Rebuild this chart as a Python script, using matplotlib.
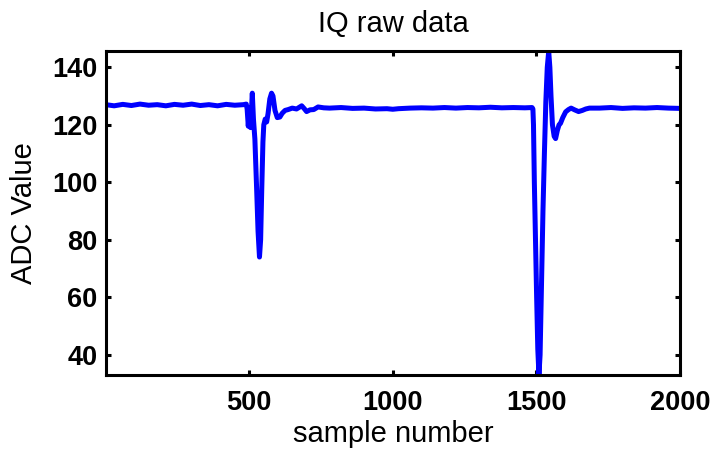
import matplotlib
matplotlib.use("Agg")
import matplotlib.pyplot as plt

plt.rcParams['font.family'] = ['Liberation Sans', 'DejaVu Sans']

# Raw ADC trace: (sample index, value) readings
sample_idx = [
    1, 30, 60, 90, 120, 150, 180, 210, 240, 270, 300, 330, 360, 390, 420, 450, 480, 490,
    493, 497, 501, 505, 508, 511, 515, 520, 526, 531, 536, 540, 544, 548, 551, 556, 561,
    566, 572, 578, 583, 590, 598, 607, 615, 625, 636, 650, 665, 683, 692, 700, 712, 725, 740,
    760, 780, 820, 860, 900, 940, 980, 1000, 1020, 1060, 1100, 1140, 1180, 1220, 1260,
    1300, 1340, 1380, 1420, 1460, 1485,
    1488, 1490, 1493, 1497, 1501, 1505, 1509, 1513, 1518, 1523, 1528, 1533, 1538, 1543,
    1547, 1551, 1556, 1562, 1567, 1573, 1579, 1584, 1592, 1602, 1612, 1621, 1633, 1647,
    1660, 1672, 1685, 1720, 1760, 1800, 1840, 1880, 1920, 1960, 2000,
]
adc_value = [
    127.0, 126.6, 127.1, 126.7, 127.2, 126.8, 127.0, 126.6, 127.1, 126.8, 127.2, 126.7,
    127.0, 126.6, 127.1, 126.8, 127.0, 127.2,
    125.5, 119.5, 126.0, 119.0, 125.0, 131.0, 122.0, 115.0, 98.0, 83.0, 74.0, 80.0, 98.0,
    114.0, 120.0, 122.0, 121.0,
    124.0, 129.0, 131.0, 130.0, 125.0, 122.5, 122.7, 124.0, 125.0, 125.3, 125.8, 125.5,
    126.6, 125.6, 124.6, 125.2, 125.3, 126.2,
    125.9, 125.8, 126.0, 125.7, 125.8, 125.5, 125.6, 125.4, 125.6, 125.8, 125.9, 125.8,
    126.0, 125.8, 126.0, 125.9, 126.1, 125.9, 126.0, 125.9, 126.0,
    125.5, 120.0, 100.0, 80.0, 60.0, 42.0, 33.0, 40.0, 65.0, 90.0, 110.0, 128.0, 140.0,
    145.5, 140.0, 130.0, 120.0, 116.0, 115.2, 118.0, 120.0, 120.5, 122.5, 124.5, 125.3,
    125.8, 125.2, 124.6, 125.0, 125.5, 125.8, 125.8, 126.0, 125.7, 125.9, 125.8, 126.0,
    125.8, 125.7,
]

x_ticks = [500, 1000, 1500, 2000]
y_ticks = [40, 60, 80, 100, 120, 140]

fig = plt.figure(figsize=(7.15, 4.49), dpi=100)
ax = fig.add_axes([0.148, 0.165, 0.803, 0.721])

ax.plot(sample_idx, adc_value, color='#0000ff', linewidth=3.6,
        solid_joinstyle='round', solid_capstyle='round')

ax.set_xlim(1, 2000)
ax.set_ylim(33, 145.6)
ax.set_xticks(x_ticks)
ax.set_yticks(y_ticks)

for side in ax.spines.values():
    side.set_linewidth(2.2)
ax.tick_params(direction='in', length=3.5, width=2.2, top=True, right=True,
               labelsize=19.5)
ax.tick_params(axis='x', pad=11)
ax.tick_params(axis='y', pad=6)
for lbl in ax.get_xticklabels() + ax.get_yticklabels():
    lbl.set_fontweight('bold')

ax.set_title('IQ raw data', fontsize=21, pad=14)
ax.set_xlabel('sample number', fontsize=21, labelpad=3)
ax.set_ylabel('ADC Value', fontsize=21, labelpad=10)

fig.savefig('out.png', dpi=100)
